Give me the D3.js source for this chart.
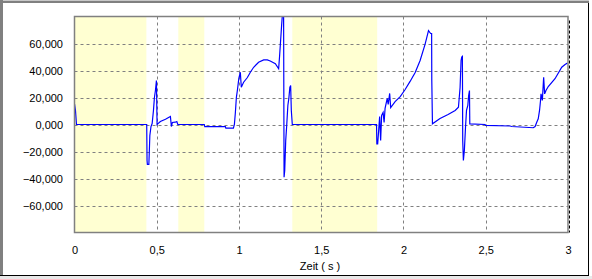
<!DOCTYPE html>
<html>
<head>
<meta charset="utf-8">
<script src="https://cdn.jsdelivr.net/npm/d3@7"></script>
<style>
  body { margin: 0; background: #fff; }
  text { font-family: "Liberation Sans", Arial, sans-serif; font-size: 11px; fill: #000; }
</style>
</head>
<body>
<div id="chart"></div>
<script>
// time (s) of each sample
var timeValues = [
  0.000, 0.006, 0.012, 0.439, 0.441, 0.443, 0.452, 0.455, 0.458, 0.465,
  0.472, 0.480, 0.486, 0.492, 0.498, 0.502, 0.506, 0.522, 0.553, 0.583,
  0.589, 0.595, 0.613, 0.622, 0.628, 0.789, 0.792, 0.917, 0.920, 0.966,
  0.972, 0.978, 0.984, 0.990, 0.999, 1.008, 1.014, 1.028, 1.051, 1.069,
  1.089, 1.119, 1.150, 1.172, 1.190, 1.221, 1.241, 1.247, 1.253, 1.259,
  1.266, 1.271, 1.274, 1.278, 1.284, 1.290, 1.297, 1.303, 1.309, 1.314,
  1.318, 1.324, 1.836, 1.838, 1.843, 1.849, 1.855, 1.861, 1.867, 1.876,
  1.882, 1.888, 1.901, 1.907, 1.916, 1.922, 1.949, 1.980, 2.010, 2.040,
  2.071, 2.101, 2.131, 2.152, 2.165, 2.171, 2.172, 2.176, 2.222, 2.271,
  2.314, 2.334, 2.344, 2.350, 2.354, 2.358, 2.360, 2.364, 2.370, 2.377,
  2.383, 2.391, 2.396, 2.401, 2.403, 2.496, 2.499, 2.648, 2.658, 2.789,
  2.800, 2.810, 2.819, 2.827, 2.833, 2.836, 2.844, 2.852, 2.858, 2.866,
  2.880, 2.921, 2.962, 2.982, 2.997
];

// signal value at each sample
var signalValues = [
  15300, 10400, 0, 0, -26700, -29600, -29600, -19300, -8100, -1500,
  700, 10400, 20200, 25200, 32600, 0, 500, 2200, 3900, 5900,
  -1500, 1500, 1700, 2200, 0, 0, -1500, -1500, -2700, -2700,
  0, 8900, 20000, 25200, 34100, 38700, 27600, 31300, 34800, 38700,
  42400, 46100, 47900, 47900, 47000, 45000, 41300, 51100, 62200, 73300,
  85000, 85000, -39000, -34000, -11900, -700, 14100, 19300, 27400, 28900,
  10400, 0, 0, -14300, -14300, -4400, 5900, -11900, 6700, 8900,
  1500, 11900, 19300, 14800, 23000, 12600, 17000, 20700, 25900, 31900,
  38500, 47400, 59300, 69600, 67400, 67400, 32600, 500, 4400, 7400,
  10400, 12800, 27400, 47400, 49900, 50400, -11900, -26700, -19300, -2000,
  10400, 14100, 21500, 25200, 500, 0, -700, -1100, -1500, -2400,
  -1500, 1700, 4200, 10400, 17800, 22700, 17800, 35000, 22700, 25200,
  28100, 33900, 42400, 44400, 45600
];

// highlighted time ranges (s)
var bandStarts = [0, 0.631, 1.324];
var bandEnds = [0.437, 0.789, 1.840];

var xTicks = [0, 0.5, 1, 1.5, 2, 2.5, 3];
var yTicks = [-60000, -40000, -20000, 0, 20000, 40000, 60000];

var svgWidth = 592;
var svgHeight = 279;

var plot = { left: 74.5, right: 568, top: 16.5, bottom: 232.5 };

var svg = d3.select("#chart")
  .append("svg")
  .attr("width", svgWidth)
  .attr("height", svgHeight);

// window frame
svg.append("rect")
  .attr("x", 0).attr("y", 0)
  .attr("width", svgWidth).attr("height", svgHeight)
  .attr("fill", "#fff");
svg.append("rect")
  .attr("x", 0).attr("y", 276)
  .attr("width", svgWidth).attr("height", 3)
  .attr("fill", "#e8e8e8");
svg.append("line")
  .attr("x1", 0).attr("x2", 589).attr("y1", 0.5).attr("y2", 0.5)
  .attr("stroke", "#c8c8c8");
svg.append("line")
  .attr("x1", 0).attr("x2", 589).attr("y1", 2).attr("y2", 2)
  .attr("stroke", "#808080").attr("stroke-width", 2);
svg.append("line")
  .attr("x1", 1.5).attr("x2", 1.5).attr("y1", 0).attr("y2", 276)
  .attr("stroke", "#808080").attr("stroke-width", 3);
svg.append("line")
  .attr("x1", 0).attr("x2", 589).attr("y1", 275.5).attr("y2", 275.5)
  .attr("stroke", "#000");
svg.append("line")
  .attr("x1", 588.5).attr("x2", 588.5).attr("y1", 3).attr("y2", 276)
  .attr("stroke", "#000");

var xScale = d3.scaleLinear()
  .domain([0, 3])
  .range([plot.left, plot.right]);

var yScale = d3.scaleLinear()
  .domain([-80000, 80000])
  .range([plot.bottom, plot.top]);

svg.append("clipPath")
  .attr("id", "plotClip")
  .append("rect")
  .attr("x", plot.left).attr("y", plot.top)
  .attr("width", plot.right - plot.left)
  .attr("height", plot.bottom - plot.top);

// yellow bands
svg.append("g")
  .selectAll("rect")
  .data(bandStarts)
  .enter()
  .append("rect")
  .attr("x", (d, i) => xScale(d))
  .attr("y", plot.top)
  .attr("width", (d, i) => xScale(bandEnds[i]) - xScale(d))
  .attr("height", plot.bottom - plot.top)
  .attr("fill", "#ffffd2");

// grid lines
var grid = svg.append("g")
  .attr("stroke", "#808080")
  .attr("stroke-dasharray", "3,3");

grid.selectAll("line.vx")
  .data(xTicks.filter(d => d > 0 && d < 3))
  .enter()
  .append("line")
  .attr("class", "vx")
  .attr("x1", d => Math.round(xScale(d)) + 0.5)
  .attr("x2", d => Math.round(xScale(d)) + 0.5)
  .attr("y1", plot.top)
  .attr("y2", plot.bottom);

grid.selectAll("line.hy")
  .data(yTicks)
  .enter()
  .append("line")
  .attr("class", "hy")
  .attr("x1", plot.left)
  .attr("x2", plot.right)
  .attr("y1", d => Math.round(yScale(d)) + 0.5)
  .attr("y2", d => Math.round(yScale(d)) + 0.5);

// signal line
var line = d3.line()
  .x((d, i) => xScale(timeValues[i]))
  .y(d => yScale(d));

svg.append("path")
  .datum(signalValues)
  .attr("clip-path", "url(#plotClip)")
  .attr("fill", "none")
  .attr("stroke", "#0000ff")
  .attr("stroke-width", 1.2)
  .attr("d", line);

// plot border
svg.append("rect")
  .attr("x", plot.left).attr("y", plot.top)
  .attr("width", plot.right - plot.left)
  .attr("height", plot.bottom - plot.top)
  .attr("fill", "none")
  .attr("stroke", "#808080")
  .attr("stroke-width", 1.5);

svg.append("line")
  .attr("x1", plot.right + 1.5).attr("x2", plot.right + 1.5)
  .attr("y1", plot.top + 4).attr("y2", plot.bottom)
  .attr("stroke", "#000")
  .attr("stroke-dasharray", "3,2");

// axes (labels only)
var leftAxis = d3.axisLeft(yScale)
  .tickValues(yTicks)
  .tickSize(0)
  .tickPadding(0)
  .tickFormat(d => d3.format(".3f")(d / 1000).replace(".", ","));

var yAxis = svg.append("g")
  .attr("transform", "translate(63, 0.5)")
  .call(leftAxis);
yAxis.select(".domain").remove();
yAxis.selectAll("text").attr("font-size", 11).attr("font-family", null).attr("fill", "#000");

var bottomAxis = d3.axisBottom(xScale)
  .tickValues(xTicks)
  .tickSize(0)
  .tickPadding(0)
  .tickFormat(d => String(d).replace(".", ","));

var xAxis = svg.append("g")
  .attr("transform", "translate(0, 246)")
  .call(bottomAxis);
xAxis.select(".domain").remove();
xAxis.selectAll("text").attr("font-size", 11).attr("font-family", null).attr("fill", "#000");

svg.append("text")
  .attr("x", 320)
  .attr("y", 270)
  .attr("text-anchor", "middle")
  .text("Zeit ( s )");
</script>
</body>
</html>
